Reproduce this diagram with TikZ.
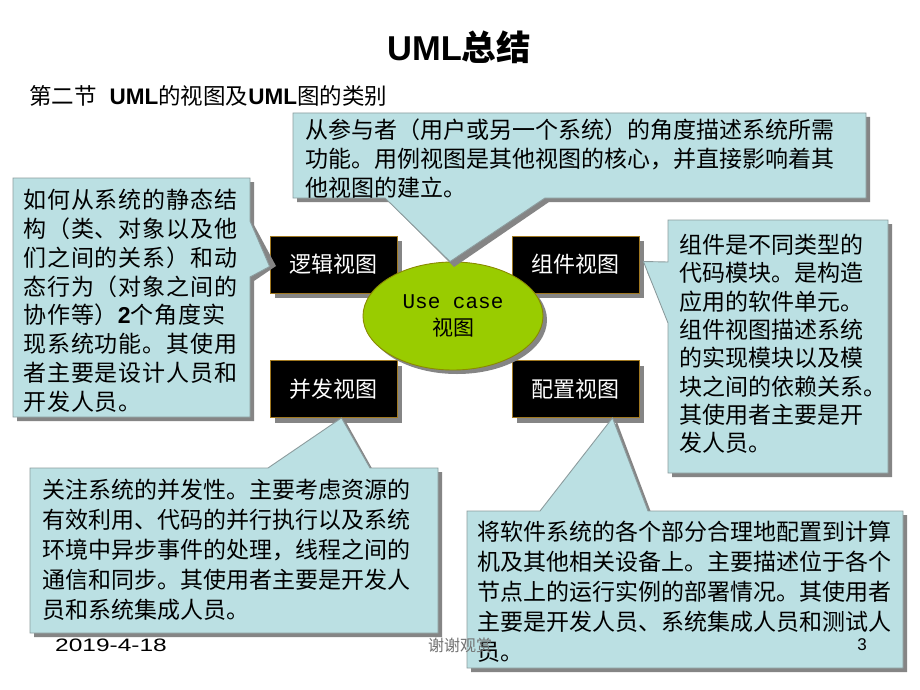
\documentclass[tikz,border=0pt]{standalone}
\usepackage{fontspec}
\setmainfont{Noto Sans CJK SC}
\newfontfamily\arialf{Liberation Sans}
\newfontfamily\monof{Liberation Mono}
\usetikzlibrary{shapes.geometric,shadows}
\definecolor{cfill}{HTML}{BBE0E3}
\definecolor{cline}{HTML}{8C9C9E}
\definecolor{shd}{HTML}{858585}
\definecolor{goldline}{HTML}{A07820}
\definecolor{ucgreen}{HTML}{99CC00}
\definecolor{ucline}{HTML}{8A8A00}
\begin{document}
\begin{tikzpicture}[x=1pt,y=-1pt,
  callout/.style={fill=cfill, draw=cline, line width=0.9pt, line join=miter},
  cshadow/.style={fill=shd, draw=none},
  viewbox/.style={fill=black, draw=goldline, line width=0.8pt, minimum width=127pt, minimum height=57pt, inner sep=0pt, text=white, font=\fontsize{22}{26}\selectfont,
    drop shadow={shadow xshift=5pt, shadow yshift=-5pt, fill=shd, opacity=1}},
  ctext/.style={anchor=north west, align=left, inner sep=0pt, text=black},
  foot/.style={inner sep=0pt}
]
\useasboundingbox[fill=white] (0,0) rectangle (920,690);

% title
\node[foot, font=\fontsize{34.5}{41}\selectfont\bfseries] (title) at (459,47) {{\arialf UML}总结};
\node[foot, anchor=west, font=\fontsize{22.5}{27}\selectfont] (sub) at (29,96) {第二节\hspace{13pt}{\arialf\bfseries UML}的视图及{\arialf\bfseries UML}图的类别};

% black view boxes
\node[viewbox] (lj) at (333.5,264.5) {逻辑视图};
\node[viewbox] (zj) at (575.5,264.5) {组件视图};
\node[viewbox] (bf) at (333.5,389) {并发视图};
\node[viewbox] (pz) at (575.5,389) {配置视图};

% use case ellipse
\node[ellipse, fill=ucgreen, draw=ucline, line width=0.9pt, minimum width=180pt, minimum height=108pt, inner sep=0pt, align=center,
  font=\fontsize{21}{27}\selectfont,
  drop shadow={shadow xshift=4pt, shadow yshift=-4pt, fill=shd, opacity=1}] (uc) at (453,316)
  {{\monof Use case}\\视图};

% callouts: shadows
\begin{scope}[shift={(4,4)}]
\fill[cshadow] (293,113) -- (866,113) -- (866,198) -- (545,198) -- (450,263) -- (385,198) -- (293,198) -- cycle;
\fill[cshadow] (13,178) -- (250,178) -- (250,221) -- (272,262) -- (250,277) -- (250,417) -- (13,417) -- cycle;
\fill[cshadow] (668,220) -- (888,220) -- (888,473) -- (668,473) -- (668,323) -- (643,268) -- (668,262) -- cycle;
\fill[cshadow] (30,468) -- (268,468) -- (342,418) -- (370,468) -- (438,468) -- (438,633) -- (30,633) -- cycle;
\fill[cshadow] (467,511) -- (540,511) -- (613,418) -- (648,511) -- (903,511) -- (903,668) -- (467,668) -- cycle;
\end{scope}
% callouts
\draw[callout] (293,113) -- (866,113) -- (866,198) -- (545,198) -- ([xshift=-3pt]uc.north) -- (385,198) -- (293,198) -- cycle;
\draw[callout] (13,178) -- (250,178) -- (250,221) -- ([yshift=-2pt]lj.west) -- (250,277) -- (250,417) -- (13,417) -- cycle;
\draw[callout] (668,220) -- (888,220) -- (888,473) -- (668,473) -- (668,323) -- ([xshift=4pt,yshift=3pt]zj.east) -- (668,262) -- cycle;
\draw[callout] (30,468) -- (268,468) -- ([xshift=8pt]bf.south) -- (370,468) -- (438,468) -- (438,633) -- (30,633) -- cycle;
\draw[callout] (467,511) -- (540,511) -- ([xshift=37pt]pz.south) -- (648,511) -- (903,511) -- (903,668) -- (467,668) -- cycle;

% callout texts
\node[ctext, font=\fontsize{23}{29}\selectfont] (t1) at (305,119) {从参与者（用户或另一个系统）的角度描述系统所需\\功能。用例视图是其他视图的核心，并直接影响着其\\他视图的建立。};
\node[ctext, font=\fontsize{23}{28.8}\selectfont\addfontfeature{LetterSpace=4}] (t2) at (23,189) {如何从系统的静态结\\构（类、对象以及他\\们之间的关系）和动\\态行为（对象之间的\\协作等）{\arialf\bfseries 2}个角度实\\现系统功能。其使用\\者主要是设计人员和\\开发人员。};
\node[ctext, font=\fontsize{23}{28.3}\selectfont] (t3) at (679,234) {组件是不同类型的\\代码模块。是构造\\应用的软件单元。\\组件视图描述系统\\的实现模块以及模\\块之间的依赖关系。\\其使用者主要是开\\发人员。};
\node[ctext, font=\fontsize{23}{30}\selectfont] (t4) at (42,479) {关注系统的并发性。主要考虑资源的\\有效利用、代码的并行执行以及系统\\环境中异步事件的处理，线程之间的\\通信和同步。其使用者主要是开发人\\员和系统集成人员。};
\node[ctext, font=\fontsize{23}{30}\selectfont] (t5) at (477,521) {将软件系统的各个部分合理地配置到计算\\机及其他相关设备上。主要描述位于各个\\节点上的运行实例的部署情况。其使用者\\主要是开发人员、系统集成人员和测试人\\员。};

% footer
\node[foot, anchor=west, font=\arialf\fontsize{18}{21}\selectfont] (date) at (55,645) {\scalebox{1.36}[1]{2019-4-18}};
\node[foot, font=\fontsize{16}{19}\selectfont, text=black!55] (thanks) at (460,645) {谢谢观赏};
\node[foot, font=\arialf\fontsize{17}{20}\selectfont] (pg) at (862,645) {3};
\end{tikzpicture}
\end{document}
